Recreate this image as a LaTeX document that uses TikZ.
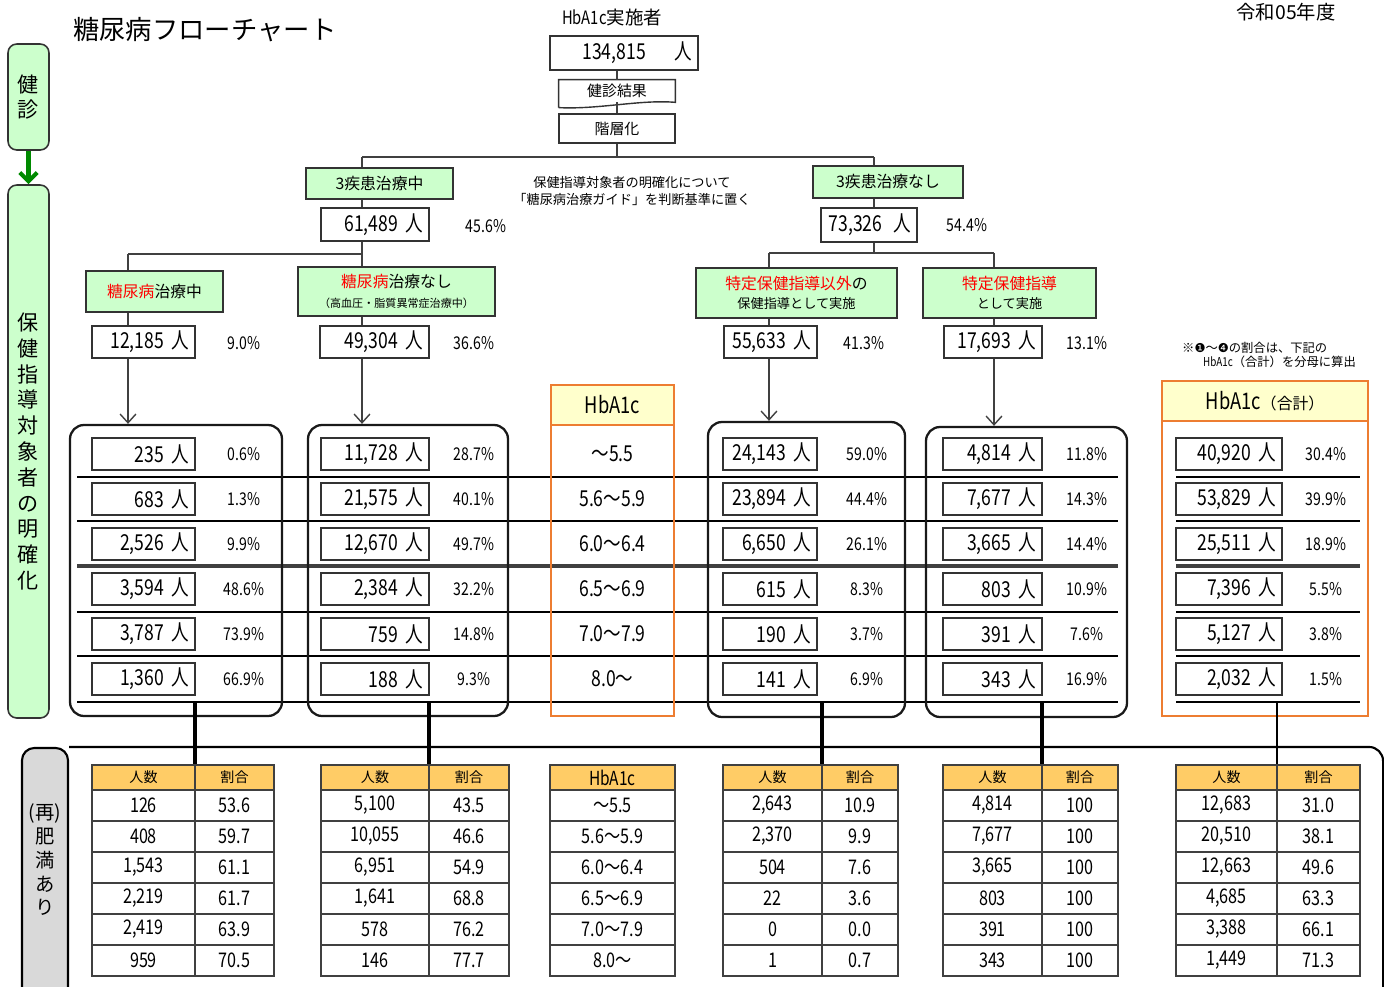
\documentclass[tikz,border=0pt]{standalone}
\usepackage{fontspec}
\setmainfont{Noto Sans CJK JP}
\newfontfamily\numfont[FakeStretch=0.8]{Noto Sans CJK JP}
\newfontfamily\symfont{DejaVu Sans}
\usetikzlibrary{arrows.meta}
\definecolor{grnfill}{HTML}{CCFFCC}
\definecolor{hdrfill}{HTML}{FFFFCC}
\definecolor{orgline}{HTML}{ED7D31}
\definecolor{tblfill}{HTML}{FFCC66}
\definecolor{grayfill}{HTML}{D9D9D9}
\definecolor{darkgrn}{HTML}{008A00}
\definecolor{lnkgray}{HTML}{404040}
\newcommand{\pxu}{0.02cm}
\tikzset{
  grnbox/.style={draw=black!80, fill=grnfill, line width=0.9pt, align=center, inner sep=0pt},
  numbox/.style={draw=black!80, line width=0.8pt, minimum height=32*\pxu, text width=(#1-12)*\pxu,
    align=right, inner xsep=6*\pxu, inner ysep=0pt, font=\numfont\fontsize{12.5}{14}\selectfont},
  pct/.style={font=\numfont\fontsize{10}{12}\selectfont},
  rng/.style={font=\numfont\fontsize{12.5}{14}\selectfont},
  link/.style={draw=lnkgray, line width=1.4pt},
  thinarr/.style={draw=lnkgray, line width=0.8pt, -{Straight Barb[length=5pt, width=9pt]}},
  grp/.style={draw=black!90, line width=1.3pt, rounded corners=8pt, inner sep=0pt},
  hbhead/.style={draw=orgline, line width=1.6pt, fill=hdrfill, minimum height=40*\pxu, inner sep=0pt,
    font=\numfont\fontsize{13}{15}\selectfont},
  hbbody/.style={draw=orgline, line width=1.6pt, inner sep=0pt},
  rowline/.style={draw=black, line width=0.8pt},
  midline/.style={draw=lnkgray, line width=2.6pt},
  drop/.style={draw=black, line width=2.2pt},
  thdr/.style={draw=lnkgray, line width=0.8pt, fill=tblfill, minimum height=25*\pxu, inner sep=0pt,
    font=\fontsize{8}{10}\selectfont},
  tcell/.style={draw=lnkgray, line width=0.8pt, minimum height=31*\pxu, inner sep=0pt,
    font=\numfont\fontsize{11.5}{13}\selectfont}
}
\begin{document}
\begin{tikzpicture}[x=0.02cm, y=-0.02cm]
\useasboundingbox (0,0) rectangle (1384,987);
\clip (0,0) rectangle (1384,987);
% heading
\node[anchor=west, font=\fontsize{15}{18}\selectfont] (title) at (67,30) {糖尿病フローチャート};
\node[font=\fontsize{11}{13}\selectfont] (year) at (1286,12) {令和05年度};
\node[font=\fontsize{10.5}{12}\selectfont] (hbcap) at (612,17) {{\numfont HbA1c}実施者};
\node[numbox=148, minimum height=34*\pxu] (total) at (624,53) {134,815\hspace{1.3em}人};
\node[minimum width=116*\pxu, minimum height=22*\pxu, inner sep=0pt, font=\fontsize{8.5}{10}\selectfont] (kres) at (617,91) {健診結果};
\draw[line width=0.8pt, draw=black!80] ([yshift=-3pt]kres.south west) -- (kres.north west) -- (kres.north east) -- (kres.south east) .. controls +(-35,-3) and +(40,2) .. ([yshift=-3pt]kres.south west);
\node[draw=black!80, line width=0.8pt, minimum width=116*\pxu, minimum height=29*\pxu, inner sep=0pt, font=\fontsize{8.5}{10}\selectfont] (strat) at (617,128.5) {階層化};
\coordinate (brM) at (617,157);
\coordinate (brL) at (362,157);
\coordinate (brR) at (874,157);
\draw[link] (kres.north |- total.south) -- (kres.north);
\draw[link] (kres.south) -- (strat.north);
\draw[link] (strat.south) -- (brM);
\draw[link] (brL) -- (brR);

% left branch
\node[grnbox, minimum width=147*\pxu, minimum height=31*\pxu, font=\fontsize{9}{11}\selectfont] (sk1) at (379.5,183.5) {3疾患治療中};
\node[numbox=108, minimum height=33*\pxu] (sk1n) at (375,224.5) {61,489 人};
\node[pct] (sk1p) at (486,226) {45.6\%};
\coordinate (brLL) at (128,254);
\coordinate (brLR) at (362,254);
\draw[link] (brL) -- (brL |- sk1.north);
\draw[link] (brL |- sk1.south) -- (brL |- sk1n.north);
\draw[link] (brL |- sk1n.south) -- (brLR) -- (brLL);
\node[grnbox, minimum width=137*\pxu, minimum height=41*\pxu, font=\fontsize{9}{11}\selectfont] (dm1) at (154.5,291.5) {\textcolor{red}{糖尿病}治療中};
\node[grnbox, minimum width=197*\pxu, minimum height=49*\pxu, font=\fontsize{9}{11}\selectfont] (dm2) at (396.5,291.5) {\textcolor{red}{糖尿病}治療なし\\{\fontsize{6.3}{8}\selectfont （高血圧・脂質異常症治療中）}};
\node[numbox=103] (dm1n) at (143.5,342) {12,185 人};
\node[pct] (dm1p) at (244,343) {9.0\%};
\node[numbox=109] (dm2n) at (374.5,342) {49,304 人};
\node[pct] (dm2p) at (474,343) {36.6\%};
\draw[link] (brLL) -- (brLL |- dm1.north);
\draw[link] (brLL |- dm1.south) -- (brLL |- dm1n.north);
\draw[link] (brLR) -- (brLR |- dm2.north);
\draw[link] (brLR |- dm2.south) -- (brLR |- dm2n.north);

% right branch
\node[grnbox, minimum width=150*\pxu, minimum height=32*\pxu, font=\fontsize{9}{11}\selectfont] (sk2) at (888,182) {3疾患治療なし};
\node[numbox=96, minimum height=34*\pxu] (sk2n) at (869,225) {73,326\hspace{0.5em}人};
\node[pct] (sk2p) at (967,225) {54.4\%};
\coordinate (brRL) at (769,253);
\coordinate (brRR) at (994,253);
\draw[link] (brR) -- (brR |- sk2.north);
\draw[link] (brR |- sk2.south) -- (brR |- sk2n.north);
\draw[link] (brR |- sk2n.south) -- (brR |- brRL);
\draw[link] (brRL) -- (brRR);
\node[grnbox, minimum width=201*\pxu, minimum height=50*\pxu, font=\fontsize{9}{11}\selectfont] (sh1) at (796.5,293) {\textcolor{red}{特定保健指導以外}の\\{\fontsize{7.5}{9}\selectfont 保健指導として実施}};
\node[grnbox, minimum width=173*\pxu, minimum height=50*\pxu, font=\fontsize{9}{11}\selectfont] (sh2) at (1009.5,293) {\textcolor{red}{特定保健指導}\\{\fontsize{7.5}{9}\selectfont として実施}};
\node[numbox=93] (sh1n) at (770.5,342) {55,633 人};
\node[pct] (sh1p) at (864,343) {41.3\%};
\node[numbox=98] (sh2n) at (993,342) {17,693 人};
\node[pct] (sh2p) at (1087,343) {13.1\%};
\draw[link] (brRL) -- (brRL |- sh1.north);
\draw[link] (brRL |- sh1.south) -- (brRL |- sh1n.north);
\draw[link] (brRR) -- (brRR |- sh2.north);
\draw[link] (brRR |- sh2.south) -- (brRR |- sh2n.north);

% notes
\node[align=center, font=\fontsize{7.5}{9.5}\selectfont] (guide) at (632,191) {保健指導対象者の明確化について\\「糖尿病治療ガイド」を判断基準に置く};
\node[anchor=west, align=left, font=\fontsize{7}{8}\selectfont] (ratio) at (1176,355) {※{\symfont ❶}～{\symfont ❹}の割合は、下記の\\\hspace{1.7em}{\numfont HbA1c}（合計）を分母に算出};

% side labels
\node[grnbox, rounded corners=5pt, minimum width=41*\pxu, minimum height=106*\pxu, font=\fontsize{12}{14.5}\selectfont] (kshin) at (28.5,97) {健\\診};
\node[grnbox, rounded corners=5pt, minimum width=41*\pxu, minimum height=533*\pxu, font=\fontsize{12}{14.7}\selectfont] (hoken) at (28.5,451.5) {保\\健\\指\\導\\対\\象\\者\\の\\明\\確\\化};
\draw[draw=darkgrn, line width=2.3pt, -{Straight Barb[length=5pt, width=10pt]}] (kshin.south) -- (hoken.north);

% row rules
\foreach \y in {477,521,612,656,702}{
  \draw[rowline] (77,\y) -- (1118,\y);
  \draw[rowline] (1176,\y) -- (1360,\y);
}
\draw[midline] (77,566) -- (1118,566);
\draw[midline] (1176,566) -- (1360,566);

% groups
\node[grp, minimum width=212*\pxu, minimum height=291*\pxu] (grp1) at (176,570.5) {};
\node[grp, minimum width=200*\pxu, minimum height=291*\pxu] (grp2) at (408,570.5) {};
\node[grp, minimum width=197*\pxu, minimum height=295*\pxu] (grp3) at (806.5,569.5) {};
\node[grp, minimum width=201*\pxu, minimum height=290*\pxu] (grp4) at (1026.5,572) {};
\node[hbhead, minimum width=123*\pxu] (hbh) at (612.5,405) {HbA1c};
\node[hbbody, minimum width=123*\pxu, minimum height=291*\pxu] (hbb) at (612.5,570.5) {};
\node[hbhead, minimum width=206*\pxu] (toth) at (1265,401) {HbA1c{\rmfamily\fontsize{9}{11}\selectfont （合計）}};
\node[hbbody, minimum width=206*\pxu, minimum height=295*\pxu] (totb) at (1265,568.5) {};
\draw[thinarr] (brLL |- dm1n.south) -- (brLL |- grp1.north);
\draw[thinarr] (brLR |- dm2n.south) -- (brLR |- grp2.north);
\draw[thinarr] (brRL |- sh1n.south) -- (brRL |- grp3.north);
\draw[thinarr] (brRR |- sh2n.south) -- (brRR |- grp4.north);

\foreach \n/\p [count=\i] in {235/0.6, 683/1.3, {2,526}/9.9, {3,594}/48.6, {3,787}/73.9, {1,360}/66.9}{
  \node[numbox=103] (g1n\i) at (143.5,409+45*\i) {\n{} 人};
  \node[pct] (g1p\i) at (244,409+45*\i) {\p\%};
}
\foreach \n/\p [count=\i] in {{11,728}/28.7, {21,575}/40.1, {12,670}/49.7, {2,384}/32.2, 759/14.8, 188/9.3}{
  \node[numbox=108] (g2n\i) at (375,409+45*\i) {\n{} 人};
  \node[pct] (g2p\i) at (474,409+45*\i) {\p\%};
}
\foreach \r [count=\i] in {～5.5, 5.6～5.9, 6.0～6.4, 6.5～6.9, 7.0～7.9, 8.0～}
  \node[rng] (hb\i) at (612.5,409+45*\i) {\r};
\foreach \n/\p [count=\i] in {{24,143}/59.0, {23,894}/44.4, {6,650}/26.1, 615/8.3, 190/3.7, 141/6.9}{
  \node[numbox=94] (g3n\i) at (770,409+45*\i) {\n{} 人};
  \node[pct] (g3p\i) at (867,409+45*\i) {\p\%};
}
\foreach \n/\p [count=\i] in {{4,814}/11.8, {7,677}/14.3, {3,665}/14.4, 803/10.9, 391/7.6, 343/16.9}{
  \node[numbox=99] (g4n\i) at (992.5,409+45*\i) {\n{} 人};
  \node[pct] (g4p\i) at (1087,409+45*\i) {\p\%};
}
\foreach \n/\p [count=\i] in {{40,920}/30.4, {53,829}/39.9, {25,511}/18.9, {7,396}/5.5, {5,127}/3.8, {2,032}/1.5}{
  \node[numbox=106] (g5n\i) at (1229,409+45*\i) {\n{} 人};
  \node[pct] (g5p\i) at (1326,409+45*\i) {\p\%};
}

% obesity frame
\node[draw, line width=1.2pt, fill=grayfill, rounded corners=7pt, minimum width=46*\pxu, minimum height=260*\pxu, inner sep=0pt] (obese) at (45,878) {};
\node[align=center, font=\fontsize{11}{13.5}\selectfont] (obtxt) at (45,860) {(再)\\肥\\満\\あ\\り};
\draw[line width=1.2pt, rounded corners=8pt] (obese.north east) -- ++(1314,0) -- ++(0,260);

% tables
\node[thdr, minimum width=103*\pxu] (t1h1) at (143.5,777.5) {人数};
\node[thdr, minimum width=79*\pxu] (t1h2) at (234.5,777.5) {割合};
\foreach \n/\r [count=\i] in {126/53.6, 408/59.7, {1,543}/61.1, {2,219}/61.7, {2,419}/63.9, 959/70.5}{
  \node[tcell, minimum width=103*\pxu] (t1n\i) at (143.5,774.5+31*\i) {\n};
  \node[tcell, minimum width=79*\pxu] (t1r\i) at (234.5,774.5+31*\i) {\r};
}
\node[thdr, minimum width=108*\pxu] (t2h1) at (375,777.5) {人数};
\node[thdr, minimum width=80*\pxu] (t2h2) at (469,777.5) {割合};
\foreach \n/\r [count=\i] in {{5,100}/43.5, {10,055}/46.6, {6,951}/54.9, {1,641}/68.8, 578/76.2, 146/77.7}{
  \node[tcell, minimum width=108*\pxu] (t2n\i) at (375,774.5+31*\i) {\n};
  \node[tcell, minimum width=80*\pxu] (t2r\i) at (469,774.5+31*\i) {\r};
}
\node[thdr, minimum width=125*\pxu, font=\numfont\fontsize{11}{13}\selectfont] (thh) at (612.5,777.5) {HbA1c};
\foreach \r [count=\i] in {～5.5, 5.6～5.9, 6.0～6.4, 6.5～6.9, 7.0～7.9, 8.0～}
  \node[tcell, minimum width=125*\pxu] (th\i) at (612.5,774.5+31*\i) {\r};
\node[thdr, minimum width=99*\pxu] (t3h1) at (772.5,777.5) {人数};
\node[thdr, minimum width=76*\pxu] (t3h2) at (860,777.5) {割合};
\foreach \n/\r [count=\i] in {{2,643}/10.9, {2,370}/9.9, 504/7.6, 22/3.6, 0/0.0, 1/0.7}{
  \node[tcell, minimum width=99*\pxu] (t3n\i) at (772.5,774.5+31*\i) {\n};
  \node[tcell, minimum width=76*\pxu] (t3r\i) at (860,774.5+31*\i) {\r};
}
\node[thdr, minimum width=99*\pxu] (t4h1) at (992.5,777.5) {人数};
\node[thdr, minimum width=76*\pxu] (t4h2) at (1080,777.5) {割合};
\foreach \n/\r [count=\i] in {{4,814}/100, {7,677}/100, {3,665}/100, 803/100, 391/100, 343/100}{
  \node[tcell, minimum width=99*\pxu] (t4n\i) at (992.5,774.5+31*\i) {\n};
  \node[tcell, minimum width=76*\pxu] (t4r\i) at (1080,774.5+31*\i) {\r};
}
\node[thdr, minimum width=101*\pxu] (t5h1) at (1226.5,777.5) {人数};
\node[thdr, minimum width=83*\pxu] (t5h2) at (1318.5,777.5) {割合};
\foreach \n/\r [count=\i] in {{12,683}/31.0, {20,510}/38.1, {12,663}/49.6, {4,685}/63.3, {3,388}/66.1, {1,449}/71.3}{
  \node[tcell, minimum width=101*\pxu] (t5n\i) at (1226.5,774.5+31*\i) {\n};
  \node[tcell, minimum width=83*\pxu] (t5r\i) at (1318.5,774.5+31*\i) {\r};
}

% drops to tables
\coordinate (d1) at (195,702);
\coordinate (d2) at (429,702);
\coordinate (d3) at (822,702);
\coordinate (d4) at (1042,702);
\coordinate (d5) at (1277,702);
\draw[drop] (d1) -- (d1 |- t1h1.north);
\draw[drop] (d2) -- (d2 |- t2h1.north);
\draw[drop] (d3) -- (d3 |- t3h1.north);
\draw[drop] (d4) -- (d4 |- t4h1.north);
\draw[draw=black, line width=1.2pt] (d5) -- (d5 |- t5h1.north);
\end{tikzpicture}
\end{document}
